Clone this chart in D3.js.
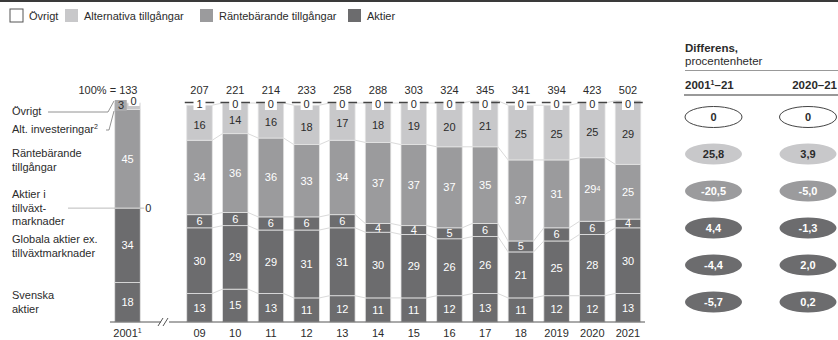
<!DOCTYPE html>
<html>
<head>
<meta charset="utf-8">
<script src="https://cdn.jsdelivr.net/npm/d3@7"></script>
<style>
  body { margin: 0; background: #fff; }
  svg { font-family: "Liberation Sans", Arial, sans-serif; }
</style>
</head>
<body>
<svg width="838" height="340"></svg>
<script>
// data
var years   = ["2001", "09", "10", "11", "12", "13", "14", "15", "16", "17", "18", "2019", "2020", "2021"];
var totals  = [133, 207, 221, 214, 233, 258, 288, 303, 324, 345, 341, 394, 423, 502];
var svenska = [18, 13, 15, 13, 11, 12, 11, 11, 12, 13, 11, 12, 12, 13];
var globala = [34, 30, 29, 29, 31, 31, 30, 29, 26, 26, 21, 25, 28, 30];
var tillvaxt = [0, 6, 6, 6, 6, 6, 4, 4, 5, 6, 5, 6, 6, 4];
var ranta   = [45, 34, 36, 36, 33, 34, 37, 37, 37, 35, 37, 31, 29, 25];
var alt     = [3, 16, 14, 16, 18, 17, 18, 19, 20, 21, 25, 25, 25, 29];
var ovrigt  = [0, 1, 0, 0, 0, 0, 0, 0, 0, 0, 0, 0, 0, 0];

var keys = ["svenska", "globala", "tillvaxt", "ranta", "alt"];
var rowNames = ["ovrigt", "alt", "ranta", "tillvaxt", "globala", "svenska"];
var diff2001 = [0, 25.8, -20.5, 4.4, -4.4, -5.7];
var diff2020 = [0, 3.9, -5.0, -1.3, 2.0, 0.2];

var legendItems = ["Övrigt", "Alternativa tillgångar", "Räntebärande tillgångar", "Aktier"];

var cDark = "#6c6c6e", cMid = "#9b9b9d", cLight = "#c8c8ca", cText = "#2b2b2b";
var fill = {svenska: cDark, globala: cDark, tillvaxt: cDark, ranta: cMid, alt: cLight, ovrigt: "#fff"};

var table = years.map(function(yr, i) {
  return {year: yr, total: totals[i], svenska: svenska[i], globala: globala[i],
          tillvaxt: tillvaxt[i], ranta: ranta[i], alt: alt[i], ovrigt: ovrigt[i]};
});

var svg = d3.select("svg");

var y = d3.scaleLinear().domain([0, 100]).range([322, 103]);
var xMain = d3.scalePoint().domain(years.slice(1)).range([199.5, 628]);
var xFirst = d3.scalePoint().domain(["2001"]).range([127.5, 127.5]);
var cx = function(yr) { return yr === "2001" ? xFirst(yr) : xMain(yr); };
var bw = 25.5;

var stack = d3.stack().keys(keys)(table);

// top rule
svg.append("line").attr("x1", 0).attr("x2", 838).attr("y1", 1).attr("y2", 1)
  .style("stroke", "#3a3a3a").style("stroke-width", 2);

// legend
var lx = [10, 65, 200, 348];
var lg = svg.append("g").selectAll("g").data(legendItems).enter().append("g")
  .attr("transform", function(d, i) { return "translate(" + lx[i] + ",9)"; });
lg.append("rect").attr("width", 13).attr("height", 13)
  .style("fill", function(d, i) { return ["#fff", cLight, cMid, cDark][i]; })
  .style("stroke", function(d, i) { return i === 0 ? "#555" : "none"; });
lg.append("text").attr("x", 19).attr("y", 11).style("font-size", "11px").style("fill", cText)
  .text(function(d) { return d; });

// connector lines between consecutive bars
var conn = svg.append("g");
stack.forEach(function(layer) {
  for (var i = 1; i < table.length - 1; i++) {
    conn.append("line")
      .attr("x1", cx(table[i].year) + bw / 2).attr("x2", cx(table[i + 1].year) - bw / 2)
      .attr("y1", y(layer[i][1])).attr("y2", y(layer[i + 1][1]))
      .style("stroke", "#dadada").style("stroke-width", 1);
  }
});

// bars
var layers = svg.append("g").selectAll("g").data(stack).enter().append("g")
  .style("fill", function(d) { return fill[d.key]; });
layers.selectAll("rect").data(function(d) { return d; }).enter().append("rect")
  .attr("x", function(d) { return cx(d.data.year) - bw / 2; })
  .attr("width", bw)
  .attr("y", function(d) { return y(d[1]); })
  .attr("height", function(d) { return y(d[0]) - y(d[1]); })
  .style("stroke", "#e4e4e4").style("stroke-width", 0.8);

// small box behind the 2001 alt label
var first = table[0];
svg.append("rect").attr("x", cx("2001") - bw / 2).attr("y", y(100) - 3)
  .attr("width", 12).attr("height", 11).style("fill", "#a9a9ab");

// segment labels
stack.forEach(function(layer) {
  svg.append("g").selectAll("text")
    .data(layer.filter(function(d) { return d.data.year !== "2001" || d.data[layer.key] > 0; }))
    .enter().append("text")
    .attr("x", function(d) { return d.data.year === "2001" && layer.key === "alt" ? cx(d.data.year) - 6.5 : cx(d.data.year); })
    .attr("y", function(d) {
      if (d.data.year === "2001" && layer.key === "alt") return y(100) + 2.5;
      return (y(d[0]) + y(d[1])) / 2 + (layer.key === "alt" ? 2 : 0);
    })
    .attr("dy", ".35em")
    .attr("text-anchor", "middle")
    .style("font-size", "11px")
    .style("fill", layer.key === "alt" ? cText : "#fff")
    .each(function(d) {
      var t = d3.select(this);
      t.text(d.data[layer.key]);
      if (layer.key === "ranta" && d.data.year === "2020")
        t.append("tspan").attr("dy", "-0.4em").style("font-size", "7px").text("4");
    });
});

// övrigt markers on top of main bars
var ov = svg.append("g").selectAll("g").data(table.slice(1)).enter().append("g");
ov.append("line")
  .attr("x1", function(d) { return cx(d.year) - bw / 2 - 2; })
  .attr("x2", function(d) { return cx(d.year) + bw / 2 + 2; })
  .attr("y1", y(100) - 0.5)
  .attr("y2", y(100) - 0.5)
  .style("stroke", "#444").style("stroke-width", 1.5);
ov.append("rect")
  .attr("x", function(d) { return cx(d.year) - 6; })
  .attr("y", y(100) - 5).attr("width", 12).attr("height", 12)
  .style("fill", "#fff");
ov.append("text")
  .attr("x", function(d) { return cx(d.year); })
  .attr("y", y(100) + 5)
  .attr("text-anchor", "middle").style("font-size", "11px").style("fill", cText)
  .text(function(d) { return d.ovrigt; });

// totals
svg.append("g").selectAll("text").data(table).enter().append("text")
  .attr("x", function(d) { return cx(d.year) + (d.year === "2001" ? 10 : 0); })
  .attr("y", 94)
  .attr("text-anchor", function(d) { return d.year === "2001" ? "end" : "middle"; })
  .style("font-size", "11px").style("fill", cText)
  .text(function(d) { return d.year === "2001" ? "100% = " + d.total : d.total; });

// 2001 extras: övrigt 0 and tillväxt 0
svg.append("rect").attr("x", cx("2001") + 1).attr("y", y(100) - 5).attr("width", 11).attr("height", 8)
  .style("fill", "#fff");
svg.append("text").attr("x", cx("2001") + 3).attr("y", y(100) + 2)
  .style("font-size", "11px").style("fill", cText).text(first.ovrigt);
var emY = y(first.svenska + first.globala);
svg.append("line").attr("x1", 68).attr("x2", cx("2001") + bw / 2 + 4)
  .attr("y1", emY).attr("y2", emY).style("stroke", "#bbb").style("stroke-width", 1);
svg.append("text").attr("x", cx("2001") + bw / 2 + 5).attr("y", emY).attr("dy", ".35em")
  .style("font-size", "11px").style("fill", cText).text(first.tillvaxt);

// left labels
var leftLabels = [
  {lines: ["Övrigt"], y: 115},
  {lines: ["Alt. investeringar"], y: 133, sup: "2"},
  {lines: ["Räntebärande", "tillgångar"], y: 157},
  {lines: ["Aktier i", "tillväxt-", "marknader"], y: 198},
  {lines: ["Globala aktier ex.", "tillväxtmarknader"], y: 243},
  {lines: ["Svenska", "aktier"], y: 299}
];
leftLabels.forEach(function(l) {
  var t = svg.append("text").attr("x", 12).attr("y", l.y)
    .style("font-size", "11px").style("fill", cText);
  l.lines.forEach(function(s, i) {
    t.append("tspan").attr("x", 12).attr("dy", i === 0 ? 0 : 13.5).text(s);
  });
  if (l.sup) t.append("tspan").attr("dy", -4).style("font-size", "7px").text(l.sup);
});
// leaders for övrigt / alt
svg.append("path").attr("d", "M48,112 L108,112 L114,101")
  .style("fill", "none").style("stroke", "#777").style("stroke-width", 0.8);
svg.append("path").attr("d", "M106,130 L109,130 L114,111")
  .style("fill", "none").style("stroke", "#777").style("stroke-width", 0.8);

// x axis with break
svg.append("line").attr("x1", 110).attr("x2", 161).attr("y1", 322).attr("y2", 322)
  .style("stroke", "#555").style("stroke-width", 1);
svg.append("line").attr("x1", 169).attr("x2", 645).attr("y1", 322).attr("y2", 322)
  .style("stroke", "#555").style("stroke-width", 1);
svg.append("path").attr("d", "M158,326 L163,318 M163,326 L168,318")
  .style("fill", "none").style("stroke", "#555").style("stroke-width", 1);

svg.append("g").selectAll("text").data(years).enter().append("text")
  .attr("x", function(d) { return cx(d); })
  .attr("y", 337)
  .attr("text-anchor", "middle").style("font-size", "11px").style("fill", cText)
  .each(function(d) {
    var t = d3.select(this).text(d);
    if (d === "2001") t.append("tspan").attr("dy", -4).style("font-size", "7px").text("1");
  });

// right panel
var fmt = d3.formatLocale({decimal: ",", thousands: " ", grouping: [3], currency: ["", ""], minus: "-"}).format(".1f");
var fmtDiff = function(v) { return v === 0 ? "0" : fmt(v); };
var ry = d3.scalePoint().domain(rowNames).range([117, 302]);
var colX = [713.5, 808];

svg.append("text").attr("x", 685).attr("y", 52).style("font-size", "11.5px")
  .style("font-weight", "bold").style("fill", cText).text("Differens,");
svg.append("text").attr("x", 685).attr("y", 65).style("font-size", "11.5px")
  .style("fill", cText).text("procentenheter");
svg.append("line").attr("x1", 685).attr("x2", 838).attr("y1", 70.5).attr("y2", 70.5)
  .style("stroke", "#999").style("stroke-width", 1);
var h1 = svg.append("text").attr("x", 685).attr("y", 89).style("font-size", "11.5px")
  .style("font-weight", "bold").style("fill", cText).text("2001");
h1.append("tspan").attr("dy", -4).style("font-size", "7px").text("1");
h1.append("tspan").attr("dy", 4).text("–21");
svg.append("text").attr("x", 837).attr("y", 89).attr("text-anchor", "end").style("font-size", "11.5px")
  .style("font-weight", "bold").style("fill", cText).text("2020–21");
svg.append("line").attr("x1", 684).attr("x2", 838).attr("y1", 95).attr("y2", 95)
  .style("stroke", "#999").style("stroke-width", 2);

var ellFill = {ovrigt: "#fff", alt: cLight, ranta: cMid, tillvaxt: cDark, globala: cDark, svenska: cDark};
[diff2001, diff2020].forEach(function(col, c) {
  var g = svg.append("g").selectAll("g").data(col).enter().append("g")
    .attr("transform", function(d, i) { return "translate(" + colX[c] + "," + ry(rowNames[i]) + ")"; });
  g.append("ellipse").attr("rx", 28.5).attr("ry", 10.5)
    .style("fill", function(d, i) { return ellFill[rowNames[i]]; })
    .style("stroke", function(d, i) { return i === 0 ? "#444" : "none"; });
  g.append("text").attr("dy", ".35em").attr("text-anchor", "middle")
    .style("font-size", "11px").style("font-weight", "bold")
    .style("fill", function(d, i) { return i < 2 ? cText : "#fff"; })
    .text(function(d) { return fmtDiff(d); });
});
</script>
</body>
</html>
